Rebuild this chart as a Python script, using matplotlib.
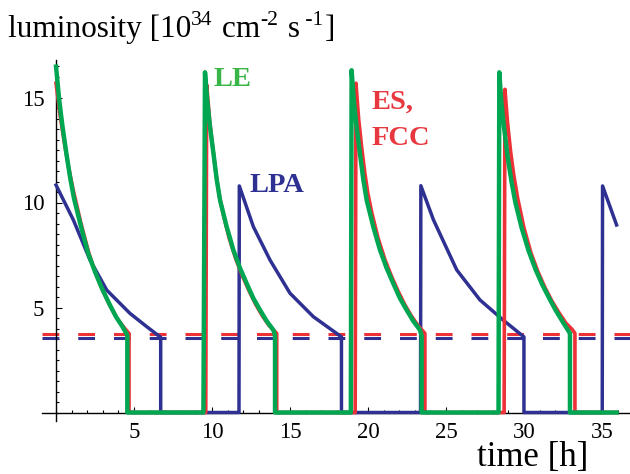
import numpy as np
import matplotlib.pyplot as plt
from matplotlib.ticker import MultipleLocator

plt.rcParams['font.family'] = ['Liberation Serif', 'DejaVu Serif']

# LE (green)
le_t = [0, 0.2, 0.4, 0.65, 0.9, 1.15, 1.6, 2.05, 2.5, 2.95, 3.4, 3.85, 4.25, 4.57, 4.57,
        9.45, 9.55, 9.7, 9.87, 10.1, 10.3, 10.52, 10.94, 11.37, 11.8, 12.22, 12.65, 13.08, 13.5, 13.93, 14.04, 14.04,
        18.9, 18.95, 19.1, 19.27, 19.49, 19.7, 19.92, 20.34, 20.77, 21.2, 21.62, 22.05, 22.48, 22.9, 23.33, 23.44, 23.44,
        28.37, 28.42, 28.55, 28.72, 28.95, 29.2, 29.45, 29.85, 30.3, 30.75, 31.2, 31.65, 32.05, 32.5, 32.95, 32.95,
        35.94]
le_L = [16.47, 14.9, 13.7, 12.4, 11.2, 10.2, 8.85, 7.6, 6.7, 5.9, 5.2, 4.55, 4.1, 3.68, 0,
        0, 16.2, 14.8, 13.6, 12.3, 11.1, 10.1, 8.85, 7.74, 6.87, 6.15, 5.44, 4.88, 4.36, 3.93, 3.67, 0,
        0, 16.3, 14.8, 13.6, 12.3, 11.1, 10.1, 8.85, 7.74, 6.87, 6.15, 5.44, 4.88, 4.36, 3.93, 3.67, 0,
        0, 16.2, 14.8, 13.6, 12.2, 11.0, 10.0, 8.8, 7.7, 6.8, 6.05, 5.4, 4.85, 4.3, 3.77, 0,
        0]

# ES, FCC (red)
es_t = [0, 0.25, 0.5, 0.8, 1.1, 1.6, 2.1, 2.55, 3.0, 3.45, 3.9, 4.3, 4.68, 4.68,
        9.6, 9.66, 9.85, 10.05, 10.25, 10.45, 10.7, 11.1, 11.53, 11.95, 12.37, 12.8, 13.23, 13.65, 14.15, 14.15,
        19.18, 19.23, 19.4, 19.6, 19.8, 20.0, 20.25, 20.65, 21.08, 21.5, 21.92, 22.35, 22.78, 23.2, 23.65, 23.65,
        28.73, 28.78, 28.95, 29.15, 29.35, 29.6, 30.0, 30.45, 30.9, 31.35, 31.8, 32.25, 32.7, 33.1, 33.27, 33.27,
        35.94]
es_L = [15.68, 14.2, 13.0, 11.7, 10.6, 9.0, 7.6, 6.6, 5.8, 5.1, 4.5, 4.1, 3.76, 0,
        0, 15.6, 13.9, 12.6, 11.4, 10.4, 9.5, 8.3, 7.3, 6.5, 5.8, 5.15, 4.6, 4.15, 3.77, 0,
        0, 15.68, 14.0, 12.6, 11.4, 10.4, 9.5, 8.3, 7.3, 6.5, 5.8, 5.15, 4.6, 4.15, 3.77, 0,
        0, 15.39, 13.8, 12.4, 11.3, 10.2, 8.8, 7.6, 6.7, 5.95, 5.3, 4.75, 4.25, 3.95, 3.77, 0,
        0]

# LPA (blue)
lpa_t = [0, 1.11, 2.18, 3.25, 4.74, 5.81, 6.71, 6.71,
         11.73, 11.75, 12.65, 13.72, 15.0, 16.5, 18.3, 18.3,
         23.37, 23.39, 24.2, 25.69, 27.18, 28.67, 30.0, 30.0,
         35.02, 35.04, 35.94]
lpa_L = [10.83, 9.17, 7.26, 5.83, 4.72, 4.09, 3.58, 0,
         0, 10.79, 8.85, 7.26, 5.68, 4.56, 3.6, 0,
         0, 10.8, 9.17, 6.79, 5.36, 4.4, 3.6, 0,
         0, 10.79, 8.93]

es_threshold = 3.74
lpa_threshold = 3.56

title_parts = [('luminosity [10', False), ('34', True), (' cm', False), ('-2', True),
               (' s', False), (' -1', True), (']', False)]

green = '#00a651'
red = '#ed3237'
blue = '#2e3192'

fig = plt.figure(figsize=(6.3, 4.74), dpi=100)
ax = fig.add_axes([42 / 630, 1 - 420.9 / 474, 588 / 630, 361.2 / 474])

ax.axhline(es_threshold, color=red, lw=2.2, dashes=(5.5, 6.2), zorder=2)
ax.axhline(lpa_threshold, color=blue, lw=2.2, dashes=(5.5, 6.2), zorder=2)

ax.plot(lpa_t, lpa_L, color=blue, lw=2.5, zorder=3)
ax.plot(es_t, es_L, color=red, lw=2.6, zorder=4)
ax.plot(le_t, le_L, color=green, lw=3.2, zorder=5)

ax.set_xlim(-0.9, 36.8)
ax.set_ylim(-0.4, 16.8)
for s in ['top', 'right']:
    ax.spines[s].set_visible(False)
ax.spines['left'].set_position(('data', 0))
ax.spines['bottom'].set_position(('data', 0))
ax.spines['left'].set_linewidth(1.0)
ax.spines['bottom'].set_linewidth(1.0)

ax.set_xticks([5, 10, 15, 20, 25, 30, 35])
ax.set_yticks([5, 10, 15])
ax.xaxis.set_minor_locator(MultipleLocator(1))
ax.yaxis.set_minor_locator(MultipleLocator(0.5))
ax.tick_params(which='both', direction='in', width=0.8)
ax.tick_params(which='major', length=4.5)
ax.tick_params(which='minor', length=2.5)
ax.tick_params(axis='x', which='major', labelsize=16.5, pad=6.5)
ax.tick_params(axis='y', which='major', labelsize=16.5, pad=8.5)

# title built piece by piece so the exponents are small and raised
renderer = fig.canvas.get_renderer()
x_px = 8
for txt, sup in title_parts:
    size = 15.5 if sup else 22.5
    y_px = 37 - 12 if sup else 37
    t = fig.text(x_px / 630, 1 - y_px / 474, txt, fontsize=size, va='baseline', ha='left')
    x_px += t.get_window_extent(renderer).width + (1.5 if sup else 0)

fig.text(588 / 630, 1 - 466 / 474, 'time [h]', fontsize=25, va='baseline', ha='right')

lbl = dict(fontsize=20.5, fontweight='bold', va='baseline', ha='left')
fig.text(214 / 630, 1 - 85.7 / 474, 'LE', color='#39b54a', **lbl)
fig.text(249 / 630, 1 - 192.3 / 474, 'LPA', color=blue, **lbl)
fig.text(372 / 630, 1 - 108.3 / 474, 'ES,', color='#e8383f', **lbl)
fig.text(372 / 630, 1 - 145 / 474, 'FCC', color='#e8383f', **lbl)

fig.savefig('out.png', dpi=100)
